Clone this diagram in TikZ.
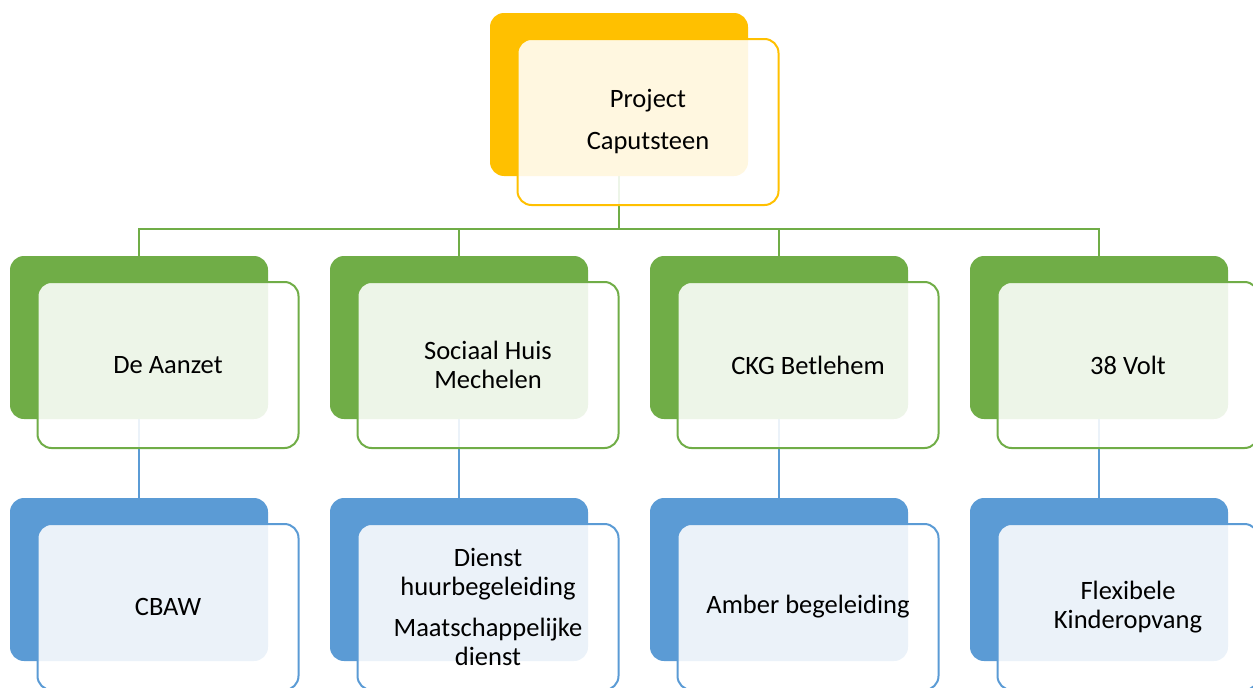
\documentclass[tikz,border=0pt]{standalone}
\usepackage{fontspec}
\setmainfont{Carlito}
\usetikzlibrary{backgrounds}
\definecolor{gold}{HTML}{FFC000}
\definecolor{leaf}{HTML}{70AD47}
\definecolor{sky}{HTML}{5B9BD5}
\tikzstyle{backbox} = [rectangle, rounded corners=14pt, minimum width=258pt, minimum height=163pt, inner sep=0pt]
\tikzstyle{frontbox} = [rectangle, rounded corners=14pt, minimum width=261pt, minimum height=166pt, inner sep=0pt, line width=2pt, fill=white, fill opacity=0.88, text opacity=1, align=center, font=\fontsize{26.5}{29}\selectfont]
\tikzstyle{link} = [line width=2pt]

\begin{document}
\begin{tikzpicture}[x=1pt,y=-1pt]

\useasboundingbox (0,0) rectangle (1253,688);
\clip (0,0) rectangle (1253,688);

% top
\node[backbox,fill=gold] (projB) at (619,94.5) {};
\node[frontbox,draw=gold] (projF) at (648,122) {Project\\[13pt]Caputsteen};

% second row
\node[backbox,fill=leaf] (aanzetB) at (139,337.5) {};
\node[frontbox,draw=leaf] (aanzetF) at (168,365) {De Aanzet};
\node[backbox,fill=leaf] (huisB) at (459,337.5) {};
\node[frontbox,draw=leaf] (huisF) at (488,365) {Sociaal Huis\\Mechelen};
\node[backbox,fill=leaf] (ckgB) at (779,337.5) {};
\node[frontbox,draw=leaf] (ckgF) at (808,365) {CKG Betlehem};
\node[backbox,fill=leaf] (voltB) at (1099,337.5) {};
\node[frontbox,draw=leaf] (voltF) at (1128,365) {38 Volt};

% third row
\node[backbox,fill=sky] (cbawB) at (139,579.5) {};
\node[frontbox,draw=sky] (cbawF) at (168,607) {CBAW};
\node[backbox,fill=sky] (dienstB) at (459,579.5) {};
\node[frontbox,draw=sky] (dienstF) at (488,607) {Dienst\\huurbegeleiding\\[12pt]Maatschappelijke\\dienst};
\node[backbox,fill=sky] (amberB) at (779,579.5) {};
\node[frontbox,draw=sky] (amberF) at (808,607) {Amber begeleiding};
\node[backbox,fill=sky] (opvangB) at (1099,579.5) {};
\node[frontbox,draw=sky] (opvangF) at (1128,607) {Flexibele\\Kinderopvang};

\begin{pgfonlayer}{background}
\coordinate (bus) at (619,229);
\draw[link,leaf] (projB.south) -- (bus);
\foreach \n in {aanzetB,huisB,ckgB,voltB}
  \draw[link,leaf] (bus) -| (\n.north);

\draw[link,sky] (aanzetB.south) -- (cbawB.north);
\draw[link,sky] (huisB.south) -- (dienstB.north);
\draw[link,sky] (ckgB.south) -- (amberB.north);
\draw[link,sky] (voltB.south) -- (opvangB.north);
\end{pgfonlayer}

\end{tikzpicture}
\end{document}
